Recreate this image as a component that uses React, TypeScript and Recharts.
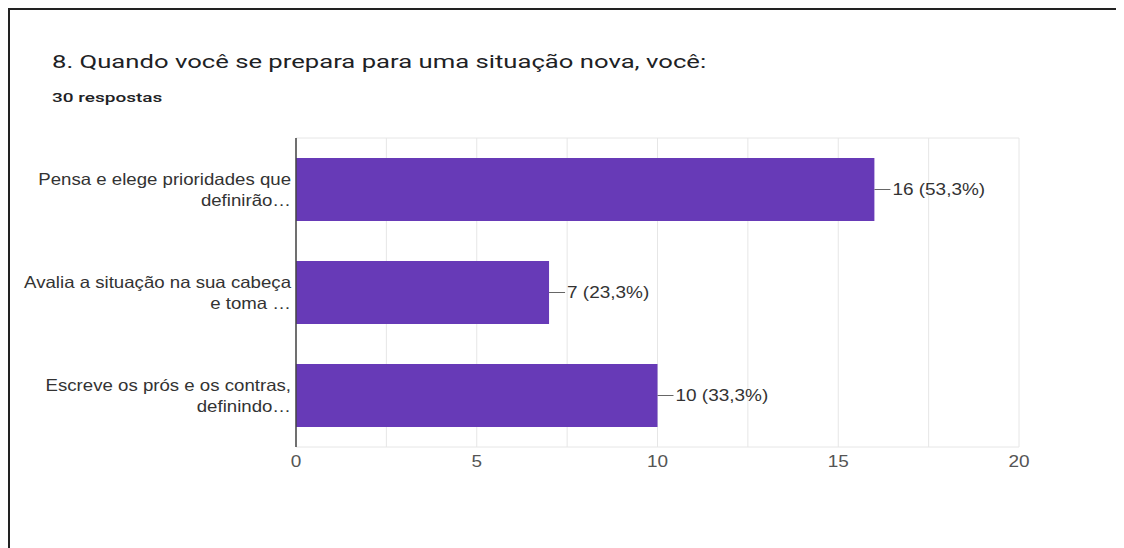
import { Bar, BarChart, CartesianGrid, LabelList, XAxis, YAxis } from 'recharts'

const title = '8. Quando você se prepara para uma situação nova, você:'
const subtitle = '30 respostas'

const categories = [
  'Pensa e elege prioridades que definirão…',
  'Avalia a situação na sua cabeça e toma …',
  'Escreve os prós e os contras, definindo…',
]
const categoryLines = [
  ['Pensa e elege prioridades que', 'definirão…'],
  ['Avalia a situação na sua cabeça', 'e toma …'],
  ['Escreve os prós e os contras,', 'definindo…'],
]
const counts = [16, 7, 10]
const valueLabels = ['16 (53,3%)', '7 (23,3%)', '10 (33,3%)']
const xTicks = [0, 2.5, 5, 7.5, 10, 12.5, 15, 17.5, 20]

const data = categories.map((name, i) => ({ name, value: counts[i], label: valueLabels[i] }))

const FONT = '"Liberation Sans", Arial, sans-serif'
const FS = 16.5
// the screenshot is stretched sideways, so text is widened to match
const SX = 1.15

const stretch = (ax: number, s = SX) => `translate(${ax},0) scale(${s},1) translate(${-ax},0)`

function CategoryTick(props: any) {
  const { x, y, index } = props
  const lines = categoryLines[index] ?? [props.payload.value]
  const ax = x + 3
  return (
    <text x={ax} y={y} textAnchor="end" fill="#333" fontSize={FS} fontFamily={FONT} transform={stretch(ax, 1.13)}>
      {lines.map((l, i) => (
        <tspan key={i} x={ax} y={y - 10 + i * 21} dominantBaseline="central">
          {l}
        </tspan>
      ))}
    </text>
  )
}

function ValueTick(props: any) {
  const { x, y, payload } = props
  if (payload.value % 5 !== 0) return null
  return (
    <text
      x={x}
      y={y + 12}
      textAnchor="middle"
      fill="#555"
      fontSize={FS}
      fontFamily={FONT}
      transform={stretch(x)}
    >
      {payload.value}
    </text>
  )
}

function BarValue(props: any) {
  const { x, y, width, height, value } = props
  const ex = x + width
  const cy = y + height / 2
  return (
    <g>
      <line x1={ex} y1={cy} x2={ex + 16} y2={cy} stroke="#666" strokeWidth={1} />
      <text
        x={ex + 18}
        y={cy}
        dominantBaseline="central"
        fill="#333"
        fontSize={FS}
        fontFamily={FONT}
        transform={stretch(ex + 18)}
      >
        {value}
      </text>
    </g>
  )
}

export default function App() {
  return (
    <div
      style={{
        position: 'relative',
        width: 1114,
        height: 538,
        borderTop: '2px solid #222',
        borderLeft: '2px solid #222',
        background: '#fff',
      }}
    >
      <div
        style={{
          position: 'absolute',
          left: 42,
          top: 40,
          fontFamily: 'Roboto, sans-serif',
          fontSize: 19,
          color: '#202124',
          whiteSpace: 'nowrap',
          transform: 'scaleX(1.35)',
          transformOrigin: 'left top',
        }}
      >
        {title}
      </div>
      <div
        style={{
          position: 'absolute',
          left: 42,
          top: 80,
          fontFamily: 'Roboto, sans-serif',
          fontSize: 13,
          fontWeight: 500,
          color: '#202124',
          whiteSpace: 'nowrap',
          transform: 'scaleX(1.46)',
          transformOrigin: 'left top',
        }}
      >
        {subtitle}
      </div>
      <div style={{ position: 'absolute', left: -2, top: -2 }}>
        <BarChart
          width={1116}
          height={540}
          data={data}
          layout="vertical"
          margin={{ top: 130, right: 105, bottom: 71, left: 0 }}
        >
          <CartesianGrid
            stroke="#e6e6e6"
            horizontalCoordinatesGenerator={({ offset }: any) => [offset.top, offset.top + offset.height]}
          />
          <XAxis
            type="number"
            domain={[0, 20]}
            ticks={xTicks}
            axisLine={false}
            tickLine={false}
            tick={<ValueTick />}
            height={30}
            interval={0}
          />
          <YAxis
            type="category"
            dataKey="name"
            width={288}
            axisLine={{ stroke: '#444', strokeWidth: 1.5 }}
            tickLine={false}
            tick={<CategoryTick />}
            interval={0}
          />
          <Bar dataKey="value" fill="#673ab7" barSize={63} isAnimationActive={false}>
            <LabelList dataKey="label" content={<BarValue />} />
          </Bar>
        </BarChart>
      </div>
    </div>
  )
}
